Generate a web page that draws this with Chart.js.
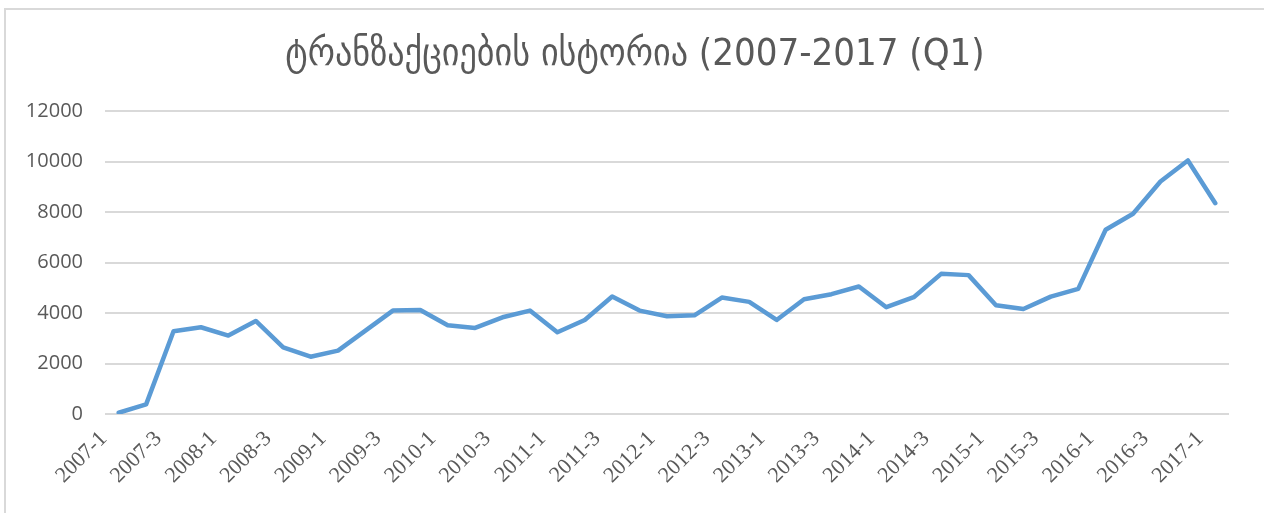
<!DOCTYPE html>
<html>
<head>
<meta charset="utf-8">
<script src="https://cdn.jsdelivr.net/npm/chart.js@4"></script>
<style>
  html, body { margin: 0; padding: 0; background: #fff; }
  #wrap { position: relative; width: 1264px; height: 513px; }
  #frame { position: absolute; left: 4px; top: 8px; right: 0; bottom: 0;
           border-top: 2px solid #d9d9d9; border-left: 2px solid #d9d9d9; }
  #historyChart { position: absolute; left: 0; top: 0; }
</style>
</head>
<body>
<div id="wrap">
  <div id="frame"></div>
  <canvas id="historyChart" width="1264" height="513"></canvas>
</div>
<script>
// Quarters 2007-1 .. 2017-1
const years = [2007, 2008, 2009, 2010, 2011, 2012, 2013, 2014, 2015, 2016, 2017];
const quarters = [1, 2, 3, 4];

const labels = [];
years.forEach(y => {
  quarters.forEach(q => {
    if (y < 2017 || q === 1) labels.push(`${y}-${q}`);
  });
});

// Transactions per quarter
const transactions = [
  50, 380, 3280, 3435, 3105, 3685, 2640, 2270, 2510, 3300,
  4095, 4120, 3515, 3410, 3830, 4095, 3235, 3725, 4650, 4095,
  3870, 3910, 4610, 4440, 3725, 4545, 4745, 5050, 4230, 4625,
  5550, 5500, 4310, 4160, 4650, 4955, 7295, 7930, 9210, 10040,
  8350
];

const yTicks = [0, 2000, 4000, 6000, 8000, 10000, 12000];
const chartTitle = "ტრანზაქციების ისტორია (2007-2017 (Q1)";

const textColor = '#595959';
const gridColor = '#d9d9d9';

// title sits centred on the whole frame, not on the chart area
const titlePlugin = {
  id: 'frameTitle',
  afterDraw(chart) {
    const ctx = chart.ctx;
    ctx.save();
    ctx.fillStyle = textColor;
    ctx.font = "normal 38px 'DejaVu Sans Condensed', 'DejaVu Sans'";
    ctx.textAlign = 'center';
    ctx.textBaseline = 'middle';
    ctx.fillText(chartTitle, 635, 55);
    ctx.restore();
  }
};

new Chart(document.getElementById("historyChart"), {
  type: 'line',
  data: {
    labels,
    datasets: [{
      label: 'transactions',
      data: transactions,
      borderColor: '#5b9bd5',
      borderWidth: 4.5,
      pointRadius: 0,
      tension: 0,
      fill: false,
      borderCapStyle: 'round',
      borderJoinStyle: 'round'
    }]
  },
  options: {
    responsive: false,
    animation: false,
    layout: { padding: { left: 0, right: 35, top: 111, bottom: 0 } },
    plugins: {
      legend: { display: false },
      tooltip: { enabled: false },
      title: { display: false }
    },
    scales: {
      x: {
        offset: true,
        grid: { display: false, drawTicks: false },
        border: { display: false },
        afterFit: scale => { scale.height = 99; },
        ticks: {
          autoSkip: false,
          maxRotation: 45,
          minRotation: 45,
          padding: 12,
          labelOffset: -15,
          color: textColor,
          font: { family: "'Liberation Serif', serif", size: 22 },
          callback: (v, i) => (i % 2 === 0 ? labels[i] : '')
        }
      },
      y: {
        min: 0,
        max: 12000,
        afterFit: scale => { scale.width = 105; },
        afterBuildTicks: scale => { scale.ticks = yTicks.map(v => ({ value: v })); },
        grid: { color: gridColor, lineWidth: 2, drawTicks: false },
        border: { display: false },
        ticks: {
          padding: 22,
          color: textColor,
          font: { family: 'Open Sans', size: 20 },
          callback: v => String(v)
        }
      }
    }
  },
  plugins: [titlePlugin]
});
</script>
</body>
</html>
